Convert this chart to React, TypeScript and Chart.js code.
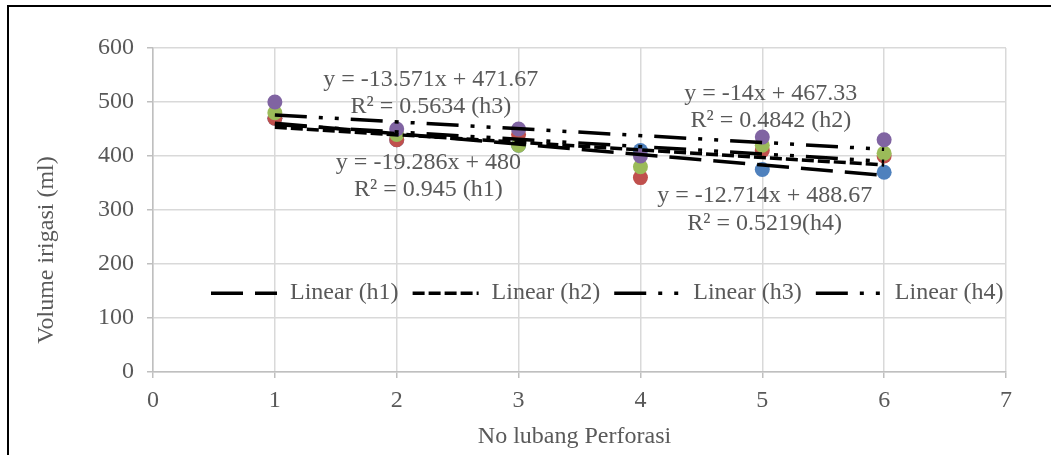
import React, { useEffect, useRef } from "react";
import { Chart, registerables } from "chart.js";
Chart.register(...registerables);

// ---- data ----
const xValues = [1, 2, 3, 4, 5, 6];
const seriesNames = ["h1", "h2", "h3", "h4"];
const h1Values = [470, 430, 420, 410, 375, 370];
const h2Values = [470, 430, 440, 360, 410, 400];
const h3Values = [480, 440, 420, 380, 420, 405];
const h4Values = [500, 450, 450, 400, 435, 430];
const seriesColors = ["#4F81BD", "#C0504D", "#9BBB59", "#8064A2"];

const trendSlopes = [-19.286, -14, -13.571, -12.714];
const trendIntercepts = [480, 467.33, 471.67, 488.67];
const equationLabels = [
  "y = -19.286x + 480",
  "y = -14x + 467.33",
  "y = -13.571x + 471.67",
  "y = -12.714x + 488.67",
];
const r2Labels = [
  "R² = 0.945 (h1)",
  "R² = 0.4842 (h2)",
  "R² = 0.5634 (h3)",
  "R² = 0.5219(h4)",
];
const legendLabels = ["Linear (h1)", "Linear (h2)", "Linear (h3)", "Linear (h4)"];

const xTickMin = 0;
const xTickMax = 7;
const yTickMin = 0;
const yTickMax = 600;
const yTickStep = 100;

const xAxisTitle = "No lubang Perforasi";
const yAxisTitle = "Volume irigasi (ml)";

// ---- styles ----
const FONT = '"Liberation Serif", "Times New Roman", serif';
const TEXT = "#595959";
const GRID = "#d9d9d9";
const AXIS = "#bfbfbf";
const LW = 3.5;
const U = 4;
const trendDashes = [
  [8 * U, 3 * U],
  [3 * U, 1 * U],
  [8 * U, 3 * U, U, 3 * U, U, 3 * U],
  [8 * U, 3 * U, U, 3 * U, U, 3 * U],
];

// label anchors (value space of the axes): [x, yLine1, yLine2]
const labelAnchors = [
  [2.26, 387, 337],
  [5.07, 515, 465],
  [2.28, 541, 491],
  [5.02, 326, 274],
];
const legendAnchor = [0.476, 146];

const annotationPlugin = {
  id: "annotations",
  afterDraw(chart: any) {
    const ctx = chart.ctx;
    const xs = chart.scales.x;
    const ys = chart.scales.y;
    const area = chart.chartArea;
    ctx.save();
    ctx.font = `24px ${FONT}`;
    ctx.fillStyle = TEXT;
    ctx.textAlign = "center";
    ctx.textBaseline = "middle";
    labelAnchors.forEach((a, i) => {
      const px = xs.getPixelForValue(a[0]);
      ctx.fillText(equationLabels[i], px, ys.getPixelForValue(a[1]));
      ctx.fillText(r2Labels[i], px, ys.getPixelForValue(a[2]));
    });
    // axis titles
    ctx.fillText(xAxisTitle, (area.left + area.right) / 2 - 5, chart.height - 18);
    ctx.save();
    ctx.translate(47, (area.top + area.bottom) / 2 + 40);
    ctx.rotate(-Math.PI / 2);
    ctx.fillText(yAxisTitle, 0, 0);
    ctx.restore();
    // legend
    let lx = xs.getPixelForValue(legendAnchor[0]);
    const ly = ys.getPixelForValue(legendAnchor[1]);
    const sampleLen = 66;
    ctx.textAlign = "left";
    legendLabels.forEach((lab, i) => {
      ctx.save();
      ctx.strokeStyle = "#000";
      ctx.lineWidth = LW;
      ctx.setLineDash(trendDashes[i]);
      ctx.beginPath();
      ctx.moveTo(lx, ly);
      ctx.lineTo(lx + sampleLen, ly);
      ctx.stroke();
      ctx.restore();
      const tx = lx + 79;
      ctx.fillText(lab, tx, ly);
      lx = tx + ctx.measureText(lab).width + 14;
    });
    ctx.restore();
  },
};

export default function App() {
  const ref = useRef<HTMLCanvasElement | null>(null);
  useEffect(() => {
    if (!ref.current) return;
    const allSeries = [h1Values, h2Values, h3Values, h4Values];
    const pointSets = allSeries.map((vals, i) => ({
      label: seriesNames[i],
      data: xValues.map((x, j) => ({ x, y: vals[j] })),
      backgroundColor: seriesColors[i],
      borderColor: seriesColors[i],
      pointRadius: 7.5,
      pointBorderWidth: 0,
      showLine: false,
      order: 4 - i,
    }));
    const trendSets = trendSlopes.map((m, i) => {
      const x0 = xValues[0];
      const x1 = xValues[xValues.length - 1];
      return {
        label: legendLabels[i],
        data: [
          { x: x0, y: trendIntercepts[i] + m * x0 },
          { x: x1, y: trendIntercepts[i] + m * x1 },
        ],
        borderColor: "#000",
        backgroundColor: "#000",
        borderWidth: LW,
        borderDash: trendDashes[i],
        pointRadius: 0,
        showLine: true,
        order: 0,
      };
    });
    const chart = new Chart(ref.current, {
      type: "scatter",
      data: { datasets: [...pointSets, ...trendSets] as any },
      plugins: [annotationPlugin],
      options: {
        animation: false,
        responsive: false,
        layout: { padding: { top: 48, right: 45, left: 0, bottom: 0 } },
        plugins: { legend: { display: false }, tooltip: { enabled: false } },
        scales: {
          x: {
            type: "linear",
            min: xTickMin,
            max: xTickMax,
            afterFit: (s: any) => {
              s.height = 83;
            },
            ticks: {
              stepSize: 1,
              color: TEXT,
              font: { family: FONT, size: 24 },
              padding: 8,
            },
            grid: { color: GRID, lineWidth: 1.5, tickLength: 6, tickColor: AXIS },
            border: { color: AXIS, width: 1.5 },
            title: { display: false, text: xAxisTitle },
          },
          y: {
            type: "linear",
            min: yTickMin,
            max: yTickMax,
            afterFit: (s: any) => {
              s.width = 153;
            },
            ticks: {
              stepSize: yTickStep,
              color: TEXT,
              font: { family: FONT, size: 24 },
              padding: 13,
            },
            grid: { color: GRID, lineWidth: 1.5, tickLength: 6, tickColor: AXIS },
            border: { color: AXIS, width: 1.5 },
            title: { display: false, text: yAxisTitle },
          },
        },
      } as any,
    });
    return () => chart.destroy();
  }, []);
  return (
    <div style={{ position: "relative", width: 1051, height: 455, overflow: "hidden", background: "#fff" }}>
      <style>{"html,body{margin:0;padding:0;overflow:hidden;background:#fff}"}</style>
      <canvas ref={ref} width={1051} height={455} style={{ display: "block" }} />
      <div
        style={{
          position: "absolute",
          left: 7,
          top: 5,
          width: 2000,
          height: 2000,
          borderLeft: "2px solid #000",
          borderTop: "2px solid #000",
          pointerEvents: "none",
        }}
      />
    </div>
  );
}
